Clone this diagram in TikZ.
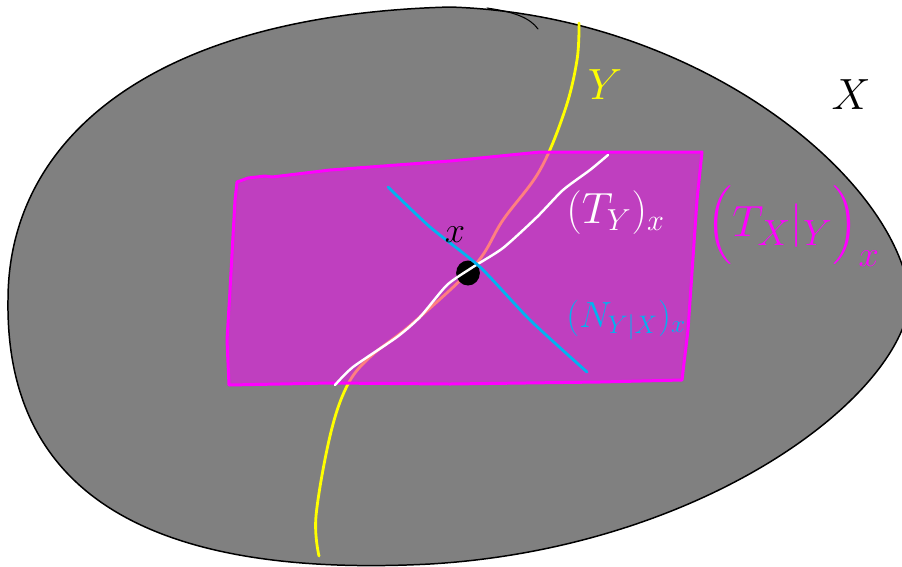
\documentclass[tikz,border=0pt]{standalone}
\usepackage{amsmath}
\usetikzlibrary{positioning}
\definecolor{blobgrey}{HTML}{808080}
\definecolor{planemag}{HTML}{FF00FF}
\definecolor{normblue}{HTML}{00B4F0}
\definecolor{subyel}{HTML}{FFFF00}
\tikzset{
  pen/.style={line cap=round, line join=round},
  blob/.style={pen, draw=black, fill=blobgrey, line width=.85pt},
  plane/.style={pen, draw=planemag, line width=1.7pt,
    fill=planemag, fill opacity=.5, draw opacity=1},
  subcurve/.style={pen, draw=subyel, line width=1.6pt},
  tanline/.style={pen, draw=white, line width=1.4pt},
  normline/.style={pen, draw=normblue, line width=1.6pt},
  pt/.style={circle, fill=black, inner sep=0pt, minimum size=5mm, xscale=.95},
  tag/.style={inner sep=0pt},
}
\begin{document}
\begin{tikzpicture}[x=0.02cm, y=-0.02cm]
  \useasboundingbox (0,0) rectangle (902,566);
  % the ambient space, cut off at the right edge
  \begin{scope}
    \clip (0,0) rectangle (902,566);
    \draw[blob] (8,300) .. controls (8,140) and (150,15) .. (450,7)
      .. controls (700,15) and (900,180) .. (910,300)
      .. controls (900,400) and (700,548) .. (430,564)
      .. controls (160,578) and (5,500) .. cycle;
  \end{scope}
  \draw[pen, line width=.6pt] (487,8) .. controls (515,12) and (530,18) .. (538,29);
  % the submanifold
  \draw[subcurve] plot[smooth, tension=.6] coordinates {
    (579,23) (577,60) (565,110) (540,170) (503,220) (475,265) (413,323)
    (370,357) (347,386) (330,436) (316,516) (319,556)};
  % tangent plane of the ambient space, restricted
  \draw[plane] (237,182) -- (248,178) -- (265,176) -- (272,177) -- (330,170)
    -- (450,161) -- (540,152) -- (702,152) -- (697,200) -- (688,330)
    -- (682,380) -- (600,382) -- (450,384) -- (330,383) -- (229,385)
    -- (227,340) -- (230,290) -- (235,200) -- cycle;
  \node[pt] (x) at (468,273) {};
  % tangent and normal directions through the point
  \draw[tanline] plot[smooth, tension=.4] coordinates {
    (335,385) (353,367) (397,337) (420,317) (447,285) (473,267) (503,248)
    (537,217) (563,190) (590,170) (608,155)};
  \draw[normline] plot[smooth, tension=.4] coordinates {
    (388,187) (430,227) (480,267) (530,320) (587,372)};
  % labels
  \node[tag, font=\fontsize{22}{24}\selectfont] (xlbl) at (455,235) {$x$};
  \node[tag, text=subyel, font=\fontsize{30}{32}\selectfont] (ylbl) at (605,85) {$Y$};
  \node[tag, font=\fontsize{29}{32}\selectfont] (spacelbl) at (851,95) {$X$};
  \node[tag, text=white, anchor=west, font=\fontsize{27}{30}\selectfont]
    (tylbl) at (566,213) {$(T_Y)_x$};
  \node[tag, text=planemag, anchor=west, font=\fontsize{30}{34}\selectfont]
    (txlbl) at (706,226) {$\Bigl(T_X|_Y\Bigr)_x$};
  \node[tag, text=normblue, anchor=west, font=\fontsize{22}{26}\selectfont]
    (nlbl) at (566,320) {$(N_{Y|X})_x$};
\end{tikzpicture}
\end{document}
